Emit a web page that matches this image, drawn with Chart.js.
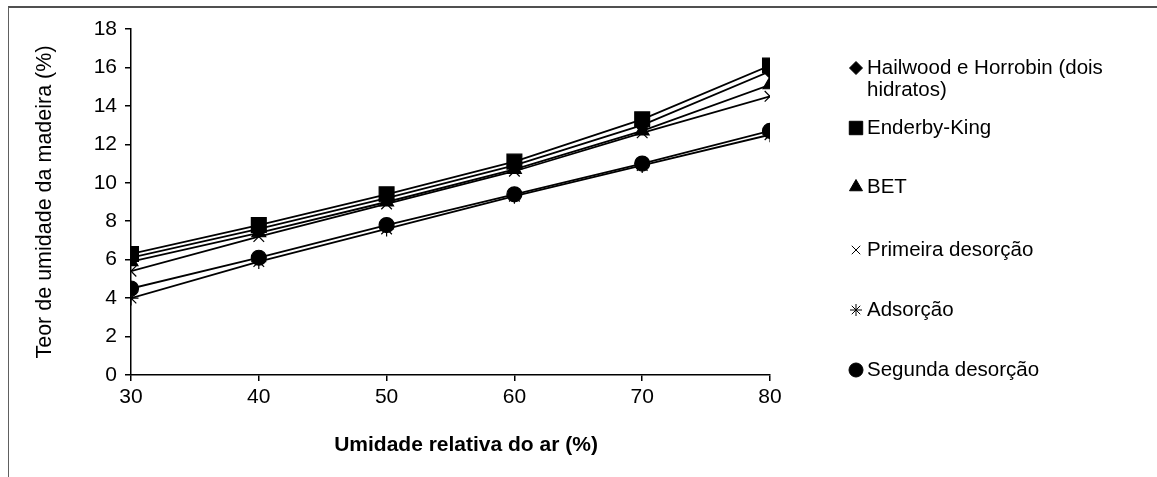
<!DOCTYPE html>
<html lang="pt-br">
<head>
    <meta charset="UTF-8">
    <title>Teor de umidade da madeira</title>
    <script src="https://cdn.jsdelivr.net/npm/chart.js"></script>
    <style>
        body { margin: 0; background: #fff; }
        .moldura {
            position: absolute; left: 8px; top: 6px; width: 1170px; height: 490px;
            border-left: 1px solid #606060; border-top: 2px solid #505050;
        }
        .graph { position: absolute; left: 0; top: 0; width: 1157px; height: 477px; }
    </style>
</head>
<body>
    <div class="moldura"></div>
    <div class="graph">
        <canvas id="myChartCanvas"></canvas>
    </div>

<script>
    // umidade relativa do ar (%)
    const umidadeAr = [30, 40, 50, 60, 70, 80];

    const hailwood = [6.1, 7.6, 9.2, 10.9, 13.0, 15.8];
    const enderby = [6.3, 7.8, 9.4, 11.1, 13.3, 16.1];
    const bet = [5.9, 7.4, 9.0, 10.7, 12.7, 15.1];
    const primeira = [5.4, 7.2, 8.9, 10.6, 12.6, 14.5];
    const adsorcao = [4.0, 5.9, 7.6, 9.3, 10.9, 12.5];
    const segunda = [4.5, 6.1, 7.8, 9.4, 11.0, 12.7];

    const nomes = [["Hailwood e Horrobin (dois", "hidratos)"], ["Enderby-King"], ["BET"],
        ["Primeira desorção"], ["Adsorção"], ["Segunda desorção"]];
    const estilos = ['rectRot', 'rect', 'triangle', 'crossRot', 'star', 'circle'];
    const tamanhos = [7, 10.5, 8, 7.5, 7.5, 7.5];
    const tamanhosLegenda = [6.5, 9.5, 7.5, 6, 6, 7];
    const legendaY = [68, 128, 187, 250, 310, 370];

    const series = [hailwood, enderby, bet, primeira, adsorcao, segunda];
    const fonte = '"Liberation Sans", Arial, sans-serif';

    function pontos(valores) {
        return valores.map(function (v, i) { return { x: umidadeAr[i], y: v }; });
    }

    const legendaLateral = {
        id: 'legendaLateral',
        afterDraw: function (chart) {
            const ctx = chart.ctx;
            ctx.save();
            ctx.fillStyle = '#000';
            ctx.strokeStyle = '#000';
            ctx.textBaseline = 'middle';
            ctx.textAlign = 'left';
            for (let i = 0; i < nomes.length; i++) {
                ctx.lineWidth = 1;
                Chart.helpers.drawPoint(ctx, {
                    pointStyle: estilos[i], radius: tamanhosLegenda[i], rotation: 0, borderWidth: 1
                }, 856, legendaY[i]);
                ctx.font = '20.5px ' + fonte;
                nomes[i].forEach(function (linha, j) {
                    ctx.fillText(linha, 867, legendaY[i] + j * 22);
                });
            }
            // titulo do eixo x (um pouco deslocado para a direita no original)
            ctx.font = 'bold 21px ' + fonte;
            ctx.textAlign = 'center';
            ctx.fillText('Umidade relativa do ar (%)', 466, 445);
            ctx.restore();
        }
    };

    let div = document.getElementById("myChartCanvas").getContext("2d");

    let myChart = new Chart(div, {
        type: 'line',
        data: {
            datasets: series.map(function (s, i) {
                return {
                    label: nomes[i].join(' '),
                    data: pontos(s),
                    borderColor: '#000',
                    backgroundColor: '#000',
                    borderWidth: 1.8,
                    pointStyle: estilos[i],
                    pointRadius: tamanhos[i],
                    pointBorderWidth: 1.2,
                    pointBackgroundColor: '#000',
                    pointBorderColor: '#000',
                    tension: 0
                };
            })
        },
        options: {
            responsive: true,
            maintainAspectRatio: false,
            animation: false,
            layout: { padding: { left: 0, top: 29, right: 387, bottom: 0 } },
            plugins: {
                legend: { display: false },
                tooltip: { enabled: false }
            },
            scales: {
                x: {
                    type: 'linear',
                    min: 30, max: 80,
                    afterFit: function (scale) { scale.height = 102; },
                    ticks: {
                        stepSize: 10, color: '#000', padding: 4,
                        font: { family: fonte, size: 21 }
                    },
                    grid: { drawOnChartArea: false, color: '#000', tickLength: 6, lineWidth: 1.5 },
                    border: { color: '#000', width: 1.5 },
                    title: { display: false }
                },
                y: {
                    min: 0, max: 18,
                    afterFit: function (scale) { scale.width = 131; },
                    ticks: {
                        stepSize: 2, color: '#000', padding: 8,
                        font: { family: fonte, size: 21 }
                    },
                    grid: { drawOnChartArea: false, color: '#000', tickLength: 6, lineWidth: 1.5 },
                    border: { color: '#000', width: 1.5 },
                    title: {
                        display: true, text: 'Teor de umidade da madeira (%)', color: '#000',
                        padding: { top: 32, bottom: 0 },
                        font: { family: fonte, size: 21.5 }
                    }
                }
            }
        },
        plugins: [legendaLateral]
    });
</script>
</body>
</html>
